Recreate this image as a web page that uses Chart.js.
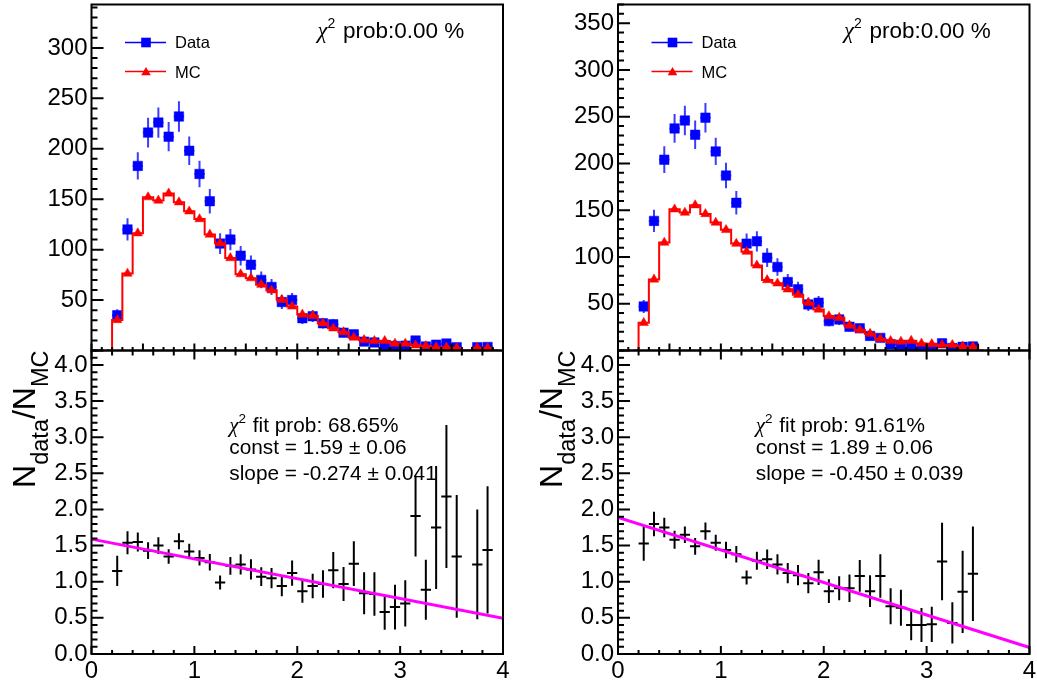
<!DOCTYPE html>
<html>
<head>
<meta charset="utf-8">
<title>Data / MC comparison with ratio fits</title>
<script src="https://cdn.jsdelivr.net/npm/chart.js@4.4.1/dist/chart.umd.min.js"></script>
<style>
  html, body { margin: 0; padding: 0; background: #ffffff; }
  #figure { position: relative; width: 1037px; height: 685px; overflow: hidden; background: #ffffff; }
  #figure canvas { position: absolute; }
</style>
</head>
<body>
<div id="figure">
  <canvas id="topLeft" width="518" height="352" style="left:0px;top:0px"></canvas>
  <canvas id="ratioLeft" width="518" height="345" style="left:0px;top:340px"></canvas>
  <canvas id="topRight" width="519" height="352" style="left:518px;top:0px"></canvas>
  <canvas id="ratioRight" width="519" height="345" style="left:518px;top:340px"></canvas>
</div>
<script>
// ---- bin centres (bin width 0.1) ----
const binCentres = [0.25, 0.35, 0.45, 0.55, 0.65, 0.75, 0.85, 0.95, 1.05, 1.15,
                    1.25, 1.35, 1.45, 1.55, 1.65, 1.75, 1.85, 1.95, 2.05, 2.15,
                    2.25, 2.35, 2.45, 2.55, 2.65, 2.75, 2.85, 2.95, 3.05, 3.15,
                    3.25, 3.35, 3.45, 3.55, 3.65, 3.75, 3.85];

// ---- left column: event counts ----
const dataLeft = [35, 120, 183, 216, 226, 212, 232, 198, 175, 148,
                  106, 110, 94, 85, 70, 63, 48, 50, 32, 34,
                  27, 26, 17.7, 16, 8.8, 8, 5.5, 4.5, 4.8, 9.9,
                  4, 5.8, 6.9, 3.3, 0, 3.3, 3.5];
const dataErrLeft = [5.9, 11, 13.5, 14.7, 15, 14.6, 15.2, 14.1, 13.2, 12.2,
                     10.3, 10.5, 9.7, 9.2, 8.4, 7.9, 6.9, 7.1, 5.7, 5.8,
                     5.2, 5.1, 4.2, 4, 3, 2.8, 2.3, 2.1, 2.2, 3.1,
                     2, 2.4, 2.6, 1.8, 0, 1.8, 1.9];
const mcLeft = [30.3, 76.3, 116.3, 152, 148.7, 155.7, 147, 138, 130.3, 115,
                106.3, 91.7, 75.7, 71.7, 65.3, 59.7, 50.3, 43.7, 35.7, 34.5,
                27, 22, 18.3, 12.8, 10.5, 9.6, 9.5, 6.9, 6.9, 5.2,
                4.5, 3.3, 3.2, 2.45, 0, 2.7, 2.4];
// ---- left column: data / MC ratio ----
const ratioLeft = [1.15, 1.54, 1.55, 1.43, 1.50, 1.35, 1.56, 1.42, 1.33, 1.27,
                   0.99, 1.22, 1.24, 1.17, 1.07, 1.05, 0.94, 1.12, 0.87, 0.94,
                   0.97, 1.16, 0.97, 1.25, 0.84, 0.83, 0.58, 0.65, 0.70, 1.91,
                   0.89, 1.75, 2.18, 1.35, null, 1.24, 1.44];
const ratioErrLeft = [0.21, 0.16, 0.13, 0.115, 0.115, 0.10, 0.11, 0.105, 0.105, 0.115,
                      0.097, 0.124, 0.14, 0.14, 0.13, 0.14, 0.14, 0.175, 0.16, 0.17,
                      0.19, 0.25, 0.235, 0.31, 0.29, 0.30, 0.245, 0.31, 0.32, 0.56,
                      0.415, 0.85, 0.99, 0.85, null, 0.76, 0.88];
const fitLeft = { prob: '68.65%', c: 1.59, cErr: '0.06', slope: -0.274, slopeErr: '0.041' };

// ---- right column: event counts ----
const dataRight = [47.1, 138.6, 204, 237.5, 246, 230.7, 249, 212.9, 187.1, 157.9,
                   114.3, 116.8, 99.3, 89.3, 73.2, 65.4, 49.3, 51.1, 31.4, 33.2,
                   25.4, 23.7, 15.6, 13.5, 6.8, 6.0, 4.2, 3.0, 2.8, 7.7,
                   2.6, 3.9, 4.4];
const dataErrRight = [6.9, 11.8, 14.3, 15.4, 15.7, 15.2, 15.8, 14.6, 13.7, 12.6,
                      10.7, 10.8, 10, 9.4, 8.6, 8.1, 7, 7.1, 5.6, 5.8,
                      5, 4.9, 4, 3.7, 2.6, 2.4, 2, 1.7, 1.7, 2.8,
                      1.6, 2, 2.1];
const mcRight = [29.6, 76, 115.4, 151, 147.5, 155.4, 146, 136.8, 129, 114.3,
                 105.7, 91, 75.4, 71.8, 65.4, 59.6, 51.1, 43.9, 36.8, 35,
                 26.8, 22, 18, 12.5, 10.3, 9.5, 10.5, 7.5, 7, 6,
                 6, 4.5, 4];
// ---- right column: data / MC ratio ----
const ratioRight = [1.53, 1.80, 1.75, 1.58, 1.65, 1.49, 1.70, 1.54, 1.44, 1.38,
                    1.06, 1.29, 1.31, 1.24, 1.12, 1.09, 0.98, 1.13, 0.87, 0.91,
                    0.91, 1.08, 0.87, 1.08, 0.66, 0.64, 0.40, 0.40, 0.41, 1.28,
                    0.43, 0.86, 1.11];
const ratioErrRight = [0.24, 0.17, 0.135, 0.125, 0.115, 0.115, 0.12, 0.11, 0.115, 0.115,
                       0.097, 0.125, 0.135, 0.14, 0.14, 0.14, 0.14, 0.175, 0.165, 0.165,
                       0.19, 0.22, 0.22, 0.30, 0.25, 0.25, 0.21, 0.235, 0.245, 0.535,
                       0.285, 0.57, 0.655];
const fitRight = { prob: '91.61%', c: 1.89, cErr: '0.06', slope: -0.450, slopeErr: '0.039' };

// ---- axis tick labels ----
const ratioTickLabels = ['0.0', '0.5', '1.0', '1.5', '2.0', '2.5', '3.0', '3.5', '4.0'];
const xTickLabels = ['0', '1', '2', '3', '4'];

const HALF_BIN = 0.05;
const sans = px => px + 'px "Liberation Sans", Arial, Helvetica, sans-serif';
const greek = px => 'italic ' + px + 'px "Liberation Serif", "DejaVu Serif", serif';
const TICK_FONT = { family: '"Liberation Sans", Arial, Helvetica, sans-serif', size: 24 };

// ---- point builders ----
function markerPoints(values, errs) {
  const pts = [];
  values.forEach((v, i) => {
    if (v === null || v === 0) return;
    pts.push({ x: binCentres[i], y: v, e: errs ? errs[i] : 0 });
  });
  return pts;
}
function stepPoints(values) {
  const pts = [{ x: binCentres[0] - 0.1, y: 0 }];
  values.forEach((v, i) => pts.push({ x: binCentres[i], y: v }));
  pts.push({ x: binCentres[values.length - 1] + 0.1, y: 0 });
  return pts;
}

// ---- rich text helper (sub/superscripts) ----
function drawRich(ctx, x, y, runs) {
  ctx.textAlign = 'left';
  ctx.textBaseline = 'alphabetic';
  let cx = x;
  for (const r of runs) {
    ctx.font = r.font;
    ctx.fillText(r.text, cx, y + (r.dy || 0));
    cx += ctx.measureText(r.text).width + (r.gap || 0);
  }
}
function richWidth(ctx, runs) {
  let w = 0;
  for (const r of runs) { ctx.font = r.font; w += ctx.measureText(r.text).width + (r.gap || 0); }
  return w;
}

// ---- error bars, drawn just beneath their own dataset ----
const errorBars = {
  id: 'errorBars',
  beforeDatasetDraw(chart, args) {
    const ds = chart.data.datasets[args.index];
    if (!ds.errorBars) return;
    const { ctx, chartArea: a, scales: { x, y } } = chart;
    ctx.save();
    ctx.beginPath();
    ctx.rect(a.left, a.top, a.right - a.left, a.bottom - a.top);
    ctx.clip();
    ctx.strokeStyle = ds.errorBars.color;
    ctx.lineWidth = ds.errorBars.width;
    ctx.beginPath();
    for (const p of ds.data) {
      const px = x.getPixelForValue(p.x);
      const py = y.getPixelForValue(p.y);
      ctx.moveTo(x.getPixelForValue(p.x - HALF_BIN), py);
      ctx.lineTo(x.getPixelForValue(p.x + HALF_BIN), py);
      ctx.moveTo(px, y.getPixelForValue(p.y - p.e));
      ctx.lineTo(px, y.getPixelForValue(p.y + p.e));
    }
    ctx.stroke();
    ctx.restore();
  }
};

// ---- frame box with inward major/minor ticks ----
const rootFrame = {
  id: 'rootFrame',
  afterDraw(chart, args, o) {
    const { ctx, chartArea: a, scales: { x, y } } = chart;
    ctx.save();
    ctx.strokeStyle = '#000';
    ctx.lineWidth = 2;
    ctx.beginPath();
    const each = (scale, step, fn) => {
      for (let k = Math.ceil(scale.min / step - 1e-6); k * step <= scale.max + 1e-6; k++) fn(scale.getPixelForValue(k * step));
    };
    each(y, o.yMinor, py => { ctx.moveTo(a.left, py); ctx.lineTo(a.left + o.yMinorLen, py); });
    each(y, o.yMajor, py => { ctx.moveTo(a.left, py); ctx.lineTo(a.left + o.yMajorLen, py); });
    each(x, o.xMinor, px => { ctx.moveTo(px, a.bottom); ctx.lineTo(px, a.bottom - o.xMinorLen); });
    each(x, o.xMajor, px => { ctx.moveTo(px, a.bottom); ctx.lineTo(px, a.bottom - o.xMajorLen); });
    if (o.topTicks) {
      each(x, o.xMinor, px => { ctx.moveTo(px, a.top); ctx.lineTo(px, a.top + o.topMinorLen); });
      each(x, o.xMajor, px => { ctx.moveTo(px, a.top); ctx.lineTo(px, a.top + o.topMajorLen); });
    }
    ctx.stroke();
    ctx.strokeRect(a.left, a.top, a.right - a.left, a.bottom - a.top);
    ctx.restore();
  }
};

function baseOptions(pad, xHeight, yMax, yStep, yLabel, showX) {
  return {
    responsive: false,
    animation: false,
    devicePixelRatio: 1,
    events: [],
    layout: { padding: pad, autoPadding: false },
    plugins: {
      legend: { display: false },
      tooltip: { enabled: false }
    },
    scales: {
      x: {
        type: 'linear', min: 0, max: 4,
        grid: { display: false, drawTicks: false },
        border: { display: false },
        ticks: {
          display: showX, stepSize: 1, autoSkip: false, includeBounds: false,
          color: '#000', font: TICK_FONT, padding: 3, maxRotation: 0,
          callback: v => xTickLabels[v]
        },
        afterFit(s) {
          s.height = xHeight;
          s.paddingLeft = 0; s.paddingRight = 0; s.paddingTop = 0; s.paddingBottom = 0;
        }
      },
      y: {
        type: 'linear', min: 0, max: yMax,
        grid: { display: false, drawTicks: false },
        border: { display: false },
        ticks: {
          stepSize: yStep, autoSkip: false, includeBounds: false,
          color: '#000', font: TICK_FONT, padding: 4,
          callback: yLabel
        },
        afterFit(s) {
          s.width = 80;
          s.paddingLeft = 0; s.paddingRight = 0; s.paddingTop = 0; s.paddingBottom = 0;
        }
      }
    }
  };
}

function makeTop(id, pad, yMax, data, dataErr, mc) {
  const opts = baseOptions(pad, 0, yMax, 50, v => (v === 0 ? '' : String(v)), false);
  opts.plugins.rootFrame = { xMajor: 0.5, xMinor: 0.1, xMajorLen: 7, xMinorLen: 3.5,
                             yMajor: 50, yMinor: 10, yMajorLen: 12, yMinorLen: 6 };
  const annot = {
    id: 'topAnnot',
    afterDraw(chart) {
      const { ctx, chartArea: a } = chart;
      ctx.save();
      // legend
      const lx = a.left + 33.5, mx = a.left + 54.5, tx = a.left + 83.5;
      ctx.lineWidth = 1.5;
      ctx.strokeStyle = '#0000ff';
      ctx.beginPath(); ctx.moveTo(lx, 42.5); ctx.lineTo(lx + 41, 42.5); ctx.stroke();
      ctx.fillStyle = '#0000ff';
      ctx.fillRect(mx - 4.8, 42.5 - 4.8, 9.6, 9.6);
      ctx.strokeStyle = '#ff0000';
      ctx.beginPath(); ctx.moveTo(lx, 71.5); ctx.lineTo(lx + 41, 71.5); ctx.stroke();
      ctx.fillStyle = '#ff0000';
      ctx.beginPath(); ctx.moveTo(mx, 67); ctx.lineTo(mx + 4.8, 75.3); ctx.lineTo(mx - 4.8, 75.3); ctx.closePath(); ctx.fill();
      ctx.fillStyle = '#000';
      drawRich(ctx, tx, 48, [{ text: 'Data', font: sans(16.5) }]);
      drawRich(ctx, tx, 77.5, [{ text: 'MC', font: sans(16.5) }]);
      // chi-square probability of the comparison
      drawRich(ctx, a.left + 226, 37.5, [
        { text: '\u03c7', font: greek(22.5) },
        { text: '2', font: sans(14), dy: -9.5, gap: 1.5 },
        { text: ' prob:0.00 %', font: sans(22.5) }
      ]);
      ctx.restore();
    }
  };
  return new Chart(document.getElementById(id), {
    type: 'line',
    data: {
      datasets: [
        { label: 'MC', type: 'scatter', data: markerPoints(mc), pointStyle: 'triangle',
          pointRadius: 5.4, pointBorderWidth: 0.5, backgroundColor: '#ff0000', borderColor: '#ff0000' },
        { label: 'MC hist', type: 'line', data: stepPoints(mc), stepped: 'middle', borderColor: '#ff0000',
          borderWidth: 2, pointRadius: 0, fill: false },
        { label: 'Data', type: 'scatter', data: markerPoints(data, dataErr), pointStyle: 'rect',
          pointRadius: 6.7, pointBorderWidth: 0.5, backgroundColor: '#0000ff', borderColor: '#0000ff',
          errorBars: { color: '#3c3cff', width: 2 } }
      ]
    },
    options: opts,
    plugins: [errorBars, rootFrame, annot]
  });
}

function makeRatio(id, pad, ratio, ratioErr, fit) {
  const opts = baseOptions(pad, 31, 4.2, 0.5, v => ratioTickLabels[Math.round(v * 2)], true);
  opts.plugins.rootFrame = { xMajor: 1, xMinor: 0.2, xMajorLen: 8, xMinorLen: 4,
                             yMajor: 0.5, yMinor: 0.1, yMajorLen: 12, yMinorLen: 6,
                             topTicks: true, topMajorLen: 9, topMinorLen: 5 };
  const annot = {
    id: 'ratioAnnot',
    afterDraw(chart) {
      const { ctx, chartArea: a } = chart;
      ctx.save();
      ctx.fillStyle = '#000';
      // fit summary
      const fx = a.left + 137.8;
      drawRich(ctx, fx, a.top + 81.5, [
        { text: '\u03c7', font: greek(21) },
        { text: '2', font: sans(13.5), dy: -9, gap: 1 },
        { text: ' fit prob: ' + fit.prob, font: sans(20.8) }
      ]);
      drawRich(ctx, fx, a.top + 103, [{ text: 'const = ' + fit.c.toFixed(2) + ' \u00b1 ' + fit.cErr, font: sans(20.8) }]);
      drawRich(ctx, fx, a.top + 129.5, [{ text: 'slope = ' + fit.slope.toFixed(3) + ' \u00b1 ' + fit.slopeErr, font: sans(20.8) }]);
      // vertical axis title N_data / N_MC
      const runs = [
        { text: 'N', font: sans(32) },
        { text: 'data', font: sans(23.5), dy: 13 },
        { text: '/', font: sans(32) },
        { text: 'N', font: sans(32) },
        { text: 'MC', font: sans(23.5), dy: 13 }
      ];
      const w = richWidth(ctx, runs);
      ctx.translate(a.left - 56.5, a.top + w);
      ctx.rotate(-Math.PI / 2);
      drawRich(ctx, 0, 0, runs);
      ctx.restore();
    }
  };
  return new Chart(document.getElementById(id), {
    type: 'line',
    data: {
      datasets: [
        { label: 'fit', type: 'line',
          data: [{ x: 0, y: fit.c }, { x: 4, y: fit.c + 4 * fit.slope }],
          borderColor: '#ff00ff', borderWidth: 3, pointRadius: 0, fill: false },
        { label: 'ratio', type: 'scatter', data: markerPoints(ratio, ratioErr), pointRadius: 0,
          errorBars: { color: '#000000', width: 2 } }
      ]
    },
    options: opts,
    plugins: [errorBars, rootFrame, annot]
  });
}

makeTop('topLeft', { left: 11.5, right: 15, top: 4.5, bottom: 1.5 }, 343, dataLeft, dataErrLeft, mcLeft);
makeRatio('ratioLeft', { left: 11.5, right: 15, top: 10.5, bottom: 0 }, ratioLeft, ratioErrLeft, fitLeft);
makeTop('topRight', { left: 20, right: 7.5, top: 4.5, bottom: 1.5 }, 370, dataRight, dataErrRight, mcRight);
makeRatio('ratioRight', { left: 20, right: 7.5, top: 10.5, bottom: 0 }, ratioRight, ratioErrRight, fitRight);
</script>
</body>
</html>
